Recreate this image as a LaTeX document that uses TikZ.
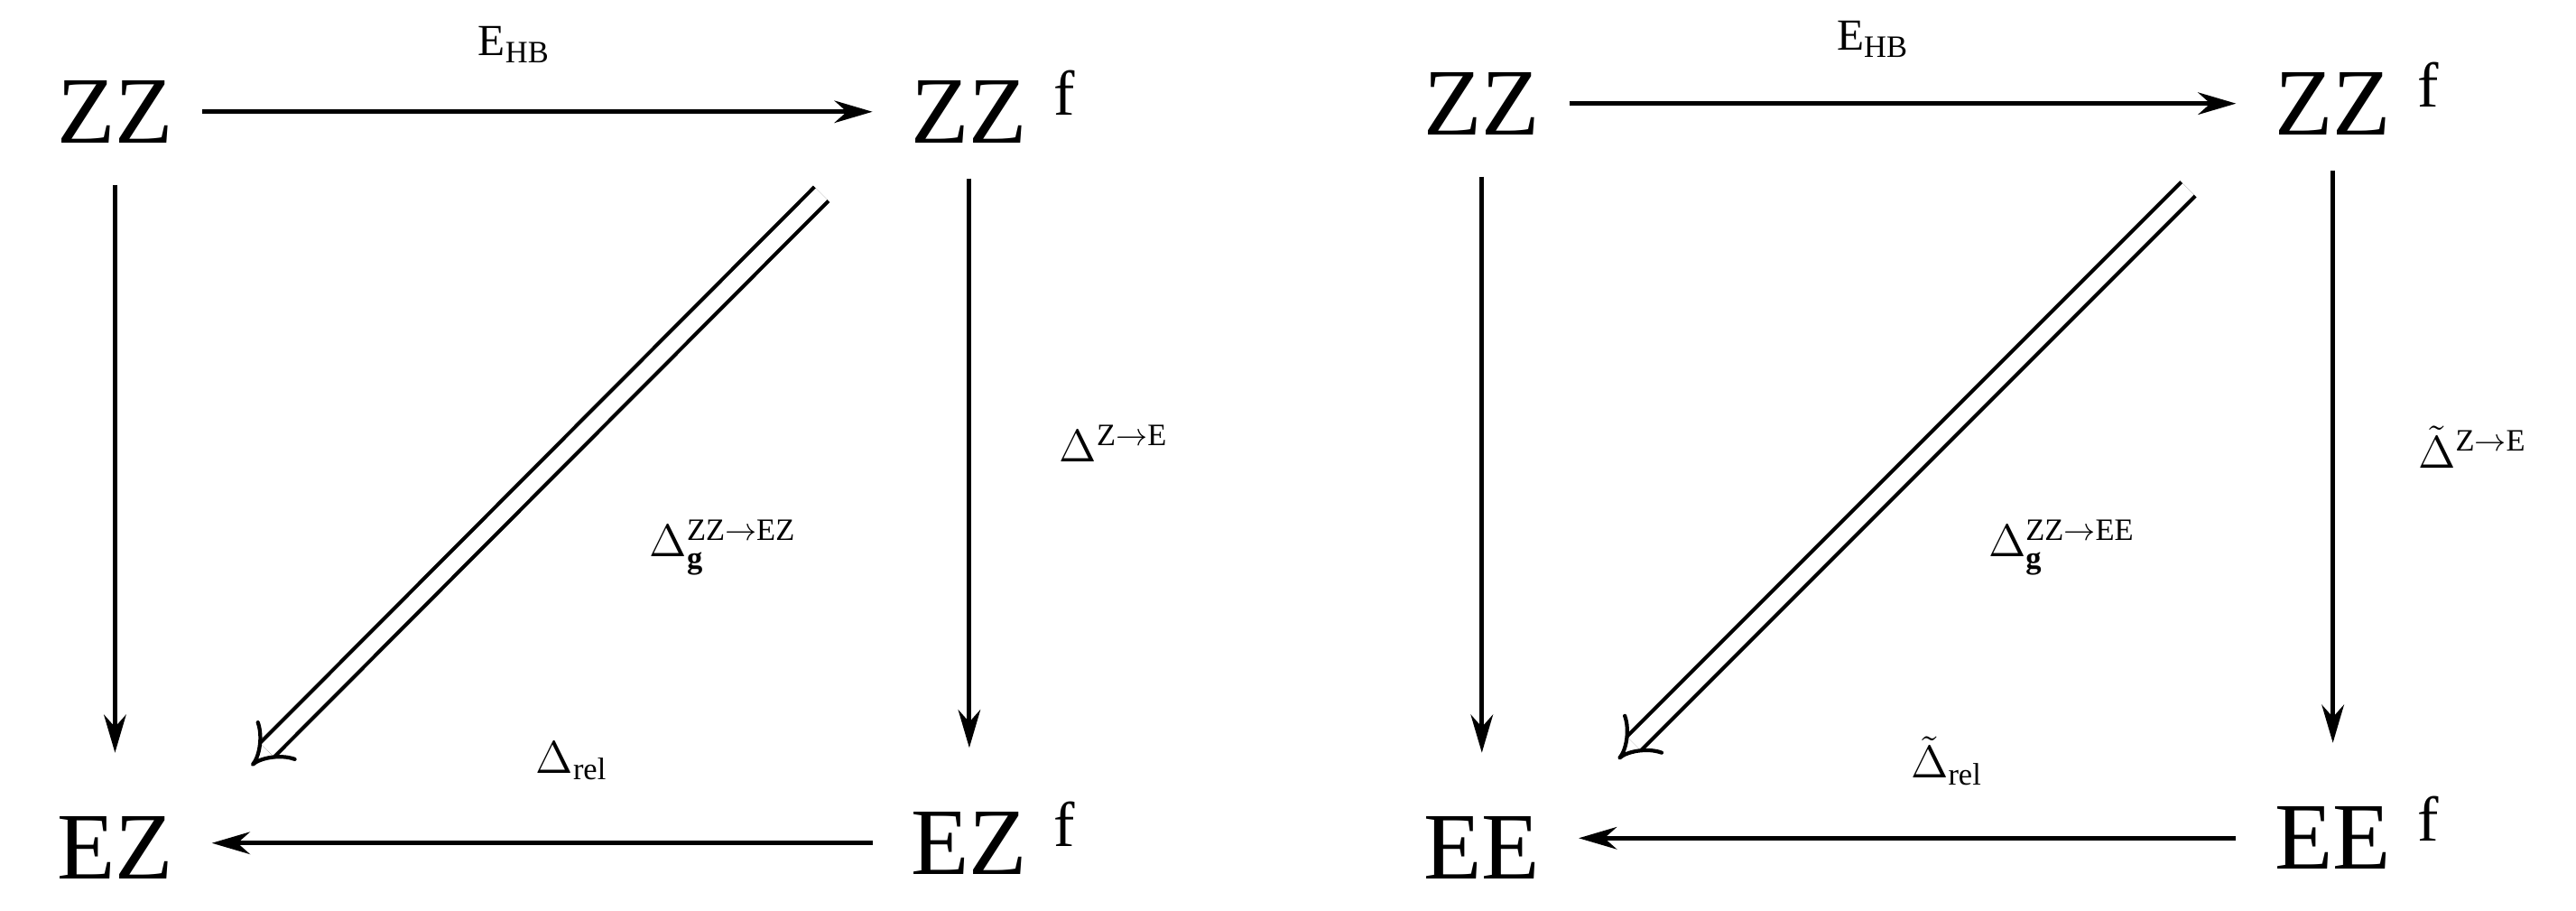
\documentclass[tikz,border=0pt]{standalone}
\usepackage{fontspec}
\setmainfont{Liberation Serif}
\usetikzlibrary{arrows.meta}
\begin{document}
\begin{tikzpicture}[x=0.0182cm,y=-0.0182cm,
  big/.style={font=\fontsize{30}{32}\selectfont,inner sep=0pt,anchor=center},
  sup/.style={font=\fontsize{20}{22}\selectfont,inner sep=0pt},
  lab/.style={font=\fontsize{14}{16}\selectfont,inner sep=0pt},
  arr/.style={line width=1.4pt,-{Stealth[length=12pt,width=7pt]}},
  dbl/.style={line width=1.2pt,double,double distance=5pt,-{Implies[length=8pt]}}]
\useasboundingbox (0,0) rectangle (1568,554);
% left diagram
\node[big] (a1) at (70,68) {ZZ};
\node[big] (b1) at (590,68) {ZZ};
\node[sup,anchor=west] (fb1) at (b1.north east) [xshift=8pt,yshift=-4pt] {f};
\node[big] (c1) at (70,516) {EZ};
\node[big] (d1) at (590,513) {EZ};
\node[sup,anchor=west] (fd1) at (d1.north east) [xshift=8pt,yshift=-4pt] {f};
\draw[arr,shorten <=9pt,shorten >=12pt] (a1.east) -- (b1.west |- a1.east);
\draw[arr,shorten <=13pt,shorten >=20pt] (a1.south) -- (c1.north);
\draw[arr,shorten <=11pt,shorten >=20pt] (b1.south) -- (d1.north);
\draw[arr,shorten <=12pt,shorten >=12pt] (d1.west) -- (c1.east |- d1.west);
\coordinate (s1) at (500,118);
\coordinate (e1) at (153,466);
\draw[dbl] (s1) -- (e1);
\node[lab] (l1) at (313,27) {E\textsubscript{HB}};
\node[lab] (l2) at (678,270) {$\Delta^{\mathrm{Z}\rightarrow\mathrm{E}}$};
\node[lab] (l3) at (440,333) {$\Delta_{\mathbf{g}}^{\mathrm{ZZ}\rightarrow\mathrm{EZ}}$};
\node[lab] (l4) at (348,463) {$\Delta_{\mathrm{rel}}$};
% right diagram
\node[big] (a2) at (902,63) {ZZ};
\node[big] (b2) at (1420,63) {ZZ};
\node[sup,anchor=west] (fb2) at (b2.north east) [xshift=8pt,yshift=-4pt] {f};
\node[big] (c2) at (902,516) {EE};
\node[big] (d2) at (1420,510) {EE};
\node[sup,anchor=west] (fd2) at (d2.north east) [xshift=8pt,yshift=-4pt] {f};
\draw[arr,shorten <=9pt,shorten >=12pt] (a2.east) -- (b2.west |- a2.east);
\draw[arr,shorten <=13pt,shorten >=20pt] (a2.south) -- (c2.north);
\draw[arr,shorten <=11pt,shorten >=20pt] (b2.south) -- (d2.north);
\draw[arr,shorten <=12pt,shorten >=12pt] (d2.west) -- (c2.east |- d2.west);
\coordinate (s2) at (1332,115);
\coordinate (e2) at (985,462);
\draw[dbl] (s2) -- (e2);
\node[lab] (m1) at (1140,24) {E\textsubscript{HB}};
\node[lab] (m2) at (1505,272) {$\tilde{\Delta}^{\mathrm{Z}\rightarrow\mathrm{E}}$};
\node[lab] (m3) at (1255,333) {$\Delta_{\mathbf{g}}^{\mathrm{ZZ}\rightarrow\mathrm{EE}}$};
\node[lab] (m4) at (1185,463) {$\tilde{\Delta}_{\mathrm{rel}}$};
\end{tikzpicture}
\end{document}
